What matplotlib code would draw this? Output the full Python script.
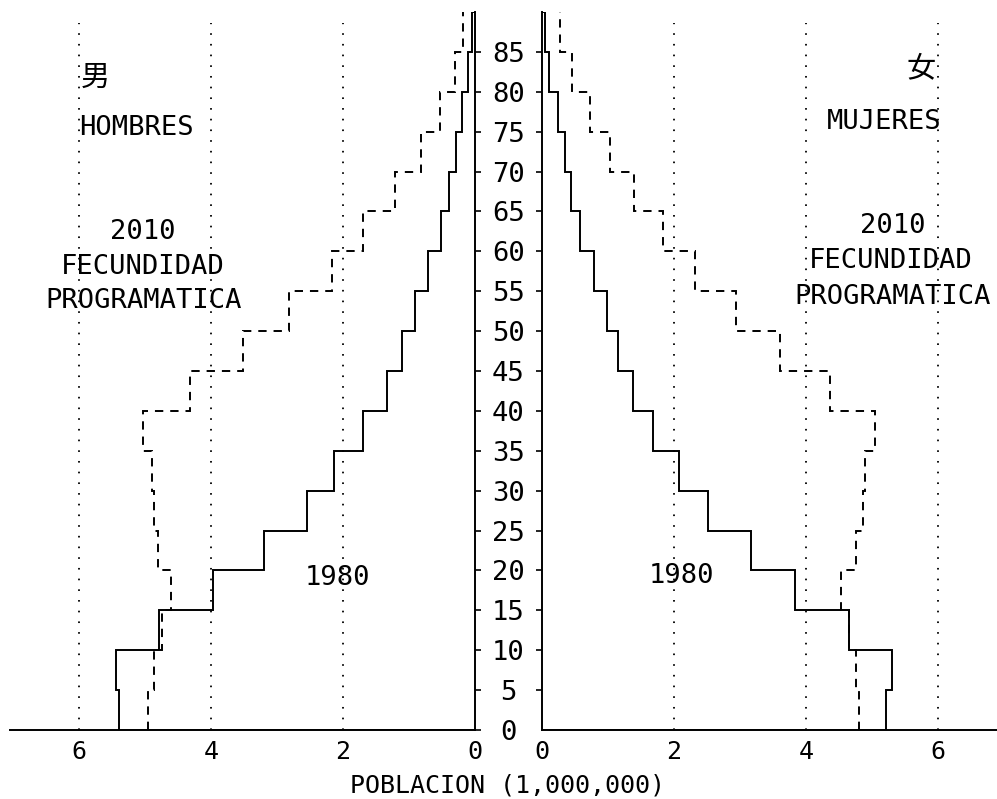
import matplotlib
matplotlib.use('Agg')
import matplotlib.pyplot as plt
import numpy as np

plt.rcParams['font.family'] = ['DejaVu Sans Mono']
plt.rcParams['lines.scale_dashes'] = False

# age groups 0-5 ... 85-90
age_edges = np.arange(0, 95, 5)
age_ticks = list(range(0, 90, 5))

# poblacion en millones
hombres_1980 = [5.39, 5.45, 4.79, 3.97, 3.20, 2.55, 2.14, 1.70, 1.33,
                1.11, 0.91, 0.71, 0.52, 0.39, 0.29, 0.20, 0.10, 0.04]
hombres_2010 = [4.96, 4.87, 4.74, 4.61, 4.81, 4.87, 4.90, 5.03, 4.32,
                3.52, 2.82, 2.17, 1.70, 1.21, 0.82, 0.53, 0.30, 0.18]
mujeres_1980 = [5.21, 5.30, 4.65, 3.84, 3.17, 2.51, 2.07, 1.68, 1.38,
                1.15, 0.98, 0.79, 0.58, 0.44, 0.35, 0.24, 0.11, 0.04]
mujeres_2010 = [4.80, 4.76, 4.65, 4.53, 4.75, 4.87, 4.90, 5.05, 4.36,
                3.61, 2.94, 2.32, 1.83, 1.39, 1.03, 0.73, 0.45, 0.28]

x_ticks = [0, 2, 4, 6]
grid_x = [2, 4, 6]

W, H = 997, 799
fig = plt.figure(figsize=(W / 100, H / 100), dpi=100)
bottom = (H - 730) / H
height = 718 / H
ax_l = fig.add_axes([10 / W, bottom, 465 / W, height])
ax_r = fig.add_axes([542 / W, bottom, 455 / W, height])

FS = 19.5

for ax, v80, v10 in [(ax_l, hombres_1980, hombres_2010), (ax_r, mujeres_1980, mujeres_2010)]:
    for g in grid_x:
        ax.axvline(g, ymax=0.985, color='black', lw=1.3, linestyle=(0, (1.2, 6.5)))
    ax.stairs(v80, age_edges, orientation='horizontal', baseline=0,
              color='black', lw=1.4)
    ax.stairs(v10, age_edges, orientation='horizontal', baseline=None,
              color='black', lw=1.4, linestyle=(0, (6, 5)))
    ax.set_ylim(0, 90)
    ax.set_xticks(x_ticks)
    ax.set_xticklabels([str(t) for t in x_ticks], fontsize=18)
    ax.tick_params(axis='x', length=0, pad=7)
    ax.spines['top'].set_visible(False)
    ax.spines['bottom'].set_linewidth(1.4)
    ax.set_facecolor('none')

ax_l.set_xlim(7.05, 0)
ax_r.set_xlim(0, (W - 542) / 66)

ax_l.spines['left'].set_visible(False)
ax_l.spines['right'].set_linewidth(1.4)
ax_l.yaxis.tick_right()
ax_l.set_yticks(age_ticks)
ax_l.set_yticklabels([str(a) for a in age_ticks], fontsize=FS)
ax_l.tick_params(axis='y', direction='out', length=4.5, width=1.2, pad=19.5)
for lab in ax_l.get_yticklabels():
    lab.set_horizontalalignment('center')

ax_r.spines['right'].set_visible(False)
ax_r.spines['left'].set_linewidth(1.4)
ax_r.set_yticks(age_ticks[1:])
ax_r.set_yticklabels([])
ax_r.tick_params(axis='y', direction='out', length=4.5, width=1.2)

cjk = ['Noto Sans CJK JP', 'DejaVu Sans']
ax_l.text(5.76, 81.8, '男', fontsize=21, family=cjk, ha='center', va='center')
ax_l.text(5.14, 75.5, 'HOMBRES', fontsize=FS, ha='center', va='center')
ax_l.text(5.03, 62.4, '2010', fontsize=FS, ha='center', va='center')
ax_l.text(5.03, 58.0, 'FECUNDIDAD', fontsize=FS, ha='center', va='center')
ax_l.text(5.03, 53.8, 'PROGRAMATICA', fontsize=FS, ha='center', va='center')
ax_l.text(2.08, 19.1, '1980', fontsize=FS, ha='center', va='center')

ax_r.text(5.74, 82.9, '女', fontsize=21, family=cjk, ha='center', va='center')
ax_r.text(5.18, 76.2, 'MUJERES', fontsize=FS, ha='center', va='center')
ax_r.text(5.32, 63.2, '2010', fontsize=FS, ha='center', va='center')
ax_r.text(5.29, 58.8, 'FECUNDIDAD', fontsize=FS, ha='center', va='center')
ax_r.text(5.32, 54.3, 'PROGRAMATICA', fontsize=FS, ha='center', va='center')
ax_r.text(2.11, 19.3, '1980', fontsize=FS, ha='center', va='center')

fig.text(508 / W, (H - 785) / H, 'POBLACION (1,000,000)', fontsize=18,
         ha='center', va='center')

fig.savefig('out.png', dpi=100, facecolor='white')
